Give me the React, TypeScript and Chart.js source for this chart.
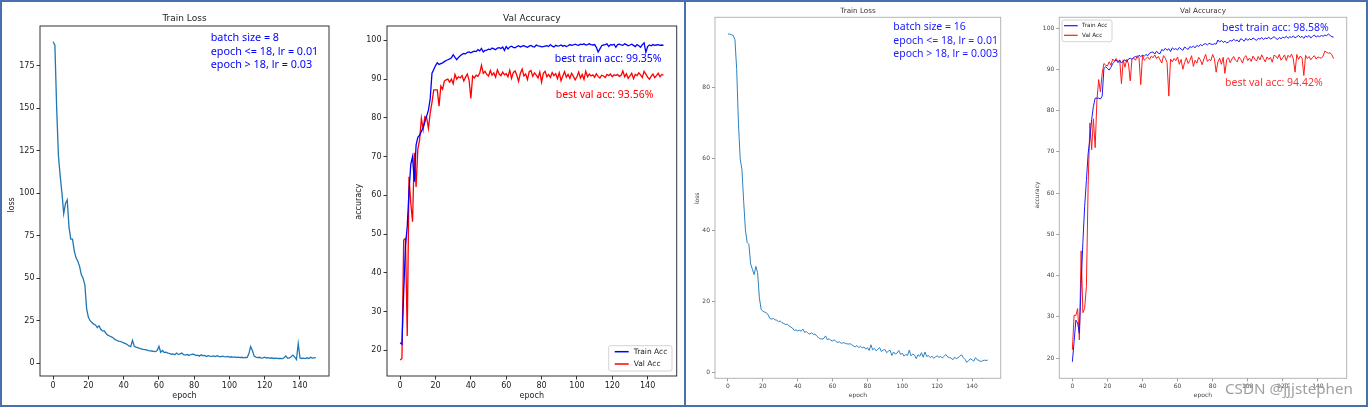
import { useEffect, useRef } from "react";
import { Chart, registerables } from "chart.js";

Chart.register(...registerables);

// ---------------- data ----------------
const epochs: number[] = Array.from({ length: 150 }, (_, i) => i);
const xTicks = [0, 20, 40, 60, 80, 100, 120, 140];
const lossB8Ticks = [0, 25, 50, 75, 100, 125, 150, 175];
const accTicks = [20, 30, 40, 50, 60, 70, 80, 90, 100];
const lossB16Ticks = [0, 20, 40, 60, 80];

const lossB8 = [
  189, 187, 150, 122, 110, 100, 88, 94, 96, 80,
  73, 73, 66, 62, 60, 57, 52, 50, 46, 32,
  27, 25, 24, 23, 22.5, 21, 22, 20, 19, 19,
  17.5, 16.5, 16, 15.5, 15, 14, 13.5, 13, 12.8, 12.5,
  12, 11.5, 11, 10.2, 9.8, 13.5, 10, 9.5, 9.2, 8.8,
  8.5, 8.2, 8, 7.8, 7.4, 7.3, 7.2, 7, 6.8, 7.5,
  10, 6.5, 7.5, 6.3, 6.5, 6, 5.8, 5.3, 5.5, 5,
  6, 5.2, 5.5, 6, 5, 4.8, 5.2, 4.6, 5, 5.4,
  5.2, 4.5, 4.8, 4.2, 5, 4.4, 4.6, 4, 4.5, 4.2,
  4, 4.3, 3.9, 4.4, 4.1, 3.8, 4.2, 3.9, 3.7, 4,
  3.6, 3.8, 3.5, 3.7, 3.4, 3.6, 3.3, 3.5, 3.2, 3.4,
  3.3, 5.5, 9.8, 7.5, 4.2, 3.6, 3.3, 3.5, 3, 3.2,
  3.6, 3.1, 3.3, 2.9, 3.2, 2.8, 3, 2.9, 2.8, 2.9,
  2.7, 3.2, 4.3, 2.9, 3.1, 3.8, 4.8, 3.6, 2.2, 11.6,
  3.1, 2.8, 3, 2.7, 3.2, 2.8, 3.5, 3, 3.2, 3.3,
];

const trainAccB8 = [
  22, 21.6, 35, 47, 52, 61, 68, 70, 63.5, 73,
  75, 75.5, 76.5, 77.5, 79, 80.5, 82, 85, 91.5, 92.5,
  93.5, 94.2, 93.8, 94, 94.2, 94.5, 94.8, 95, 95.2, 95.5,
  96.3, 95.6, 95, 95.6, 96, 96.4, 96.6, 96.5, 96.9, 97,
  96.8, 97, 97.2, 97.1, 97.6, 97.3, 97.9, 97, 97.4, 97.5,
  97.7, 97.6, 98, 97.8, 97.6, 98, 98.1, 97.9, 98.3, 97.4,
  98.4, 97.8, 98.3, 98.5, 98.2, 98.1, 98.4, 98.6, 98.3, 98.5,
  98.6, 98.4, 98.2, 98.5, 98.7, 98.4, 98.3, 98.8, 98.6, 98.5,
  98.3, 98.4, 98.5, 98.6, 98.4, 98.9, 98.5, 98.3, 98.7, 98.5,
  98.6, 98.8, 98.5, 98.7, 98.4, 98.6, 98.9, 98.7, 98.8, 99,
  98.8, 98.7, 99, 98.9, 99.1, 98.8, 98.9, 99.1, 98.9, 98.8,
  98.9, 98.2, 97, 97.8, 98.6, 98.8, 98.9, 99.1, 98.4, 98.9,
  98.8, 99, 98.2, 98.9, 99, 98.8, 98.7, 99.1, 98.9, 98.6,
  98.8, 99, 98.7, 98.4, 98.9, 98.6, 98.2, 98.9, 99.35, 96.9,
  98.4, 98.8, 98.6, 98.9, 98.7, 98.8, 98.9, 98.7, 98.8, 98.7,
];

const valAccB8 = [
  17.5, 17.9, 48.5, 48.9, 23.7, 64.8, 58, 53.2, 71, 62.2,
  72, 74.3, 79.9, 77, 80.3, 80, 77.3, 81.3, 84, 87.2,
  87.2, 87.2, 83, 88.2, 87.4, 89.5, 89.8, 90, 89.2, 90,
  88.8, 91.2, 90, 90.6, 90.3, 90.9, 89.5, 90.5, 91.3, 89.7,
  85, 90.8, 90.3, 91, 90.7, 91.5, 93.56, 91.5, 92, 91.2,
  90.8, 92.2, 91, 91.6, 90.5, 92.4, 91.3, 90.9, 91.8, 91.1,
  91.4, 90.6, 92.3, 90.2, 91.7, 92.1, 91, 89.4, 91.5, 92.6,
  90.8, 91.3, 89.9, 91.9, 92.2, 90.7, 91.6, 91, 90.3, 91.8,
  89.2, 91.5, 92, 90.6, 91.2, 90.4, 91.7, 90.9, 91.4, 90.1,
  91.6, 89.6, 90.8, 91.9, 90.5, 91.2, 90.2, 91.5, 90.7, 89.8,
  90.6, 91.8, 90.3, 91.2, 89.9, 92, 90.6, 91.3, 90.8, 91.1,
  90.5, 91.4, 90.7, 90.3, 91, 90.8, 90.4, 91.2, 90.9, 91.3,
  90.6, 91.1, 90.9, 91.2, 90.7, 91, 92.1, 90.6, 91.4, 90.2,
  90.8, 91.5, 90.1, 91.2, 90.9, 91.6, 91.1, 90.4, 92, 91.3,
  90.5, 90, 90.7, 91.3, 90.4, 90.9, 91.5, 90.6, 91.2, 91,
];

const lossB16 = [
  95, 95, 94.8, 94.6, 93.4, 85, 70, 60, 57, 48,
  40, 36.5, 36, 30.5, 29, 27.5, 29.8, 28, 21, 17.8,
  17.2, 17, 16.8, 16.2, 15.2, 15, 15.2, 14.8, 14.7, 14.3,
  14.5, 14, 13.8, 13.5, 13.6, 13.1, 12.8, 12.5, 11.8, 12,
  11.7, 11.9, 11.6, 12.2, 11.3, 11.5, 11, 10.8, 11.2, 10.7,
  10.8, 10.2, 9.8, 9.5, 9.4, 9.6, 10.3, 9.2, 9.5, 9,
  8.9, 9.2, 8.7, 8.5, 8.6, 8.2, 8.4, 8.3, 8.1, 8,
  8.1, 7.8, 7.5, 7.2, 7.6, 7, 7.4, 6.9, 7.2, 6.6,
  7, 6.2, 7.8, 6.4, 6.8, 6.1, 6.6, 7, 5.9, 6.3,
  6.5, 5.6, 6, 6.3, 4.8, 5.8, 5.2, 5.5, 6.2, 5.1,
  5.4, 4.6, 5.1, 4.8, 6.3, 4.7, 5.2, 4.9, 3.9, 5,
  4.6, 5.6, 4.3, 5.8, 4.5, 4.8, 4.2, 4.6, 4, 4.4,
  4.7, 4.3, 4.5, 4.1, 4.6, 5.1, 4.4, 4.2, 4.1, 3.6,
  4.3, 3.9, 4.2, 4.6, 5, 4.2, 3.7, 2.9, 3.3, 3.9,
  3.6, 3.2, 4.2, 3.6, 3.4, 3.1, 3.3, 3.5, 3.4, 3.5,
];

const trainAccB16 = [
  19.1, 24, 29.2, 28.5, 26, 38, 48, 56.7, 63, 69.6,
  73, 77.8, 81, 83, 83, 83, 82.8, 83.5, 90.2, 90.6,
  90.2, 89.8, 90.5, 91.4, 91.8, 92.3, 91.6, 92.2, 91.5, 92,
  92.3, 91.8, 92.5, 92.7, 92.4, 92.9, 93.1, 92.8, 93.4, 93.1,
  93.4, 93.2, 93.6, 93.3, 93.9, 94.1, 94.2, 93.7, 94.4, 93.9,
  93.8, 94.8, 94.5, 95.1, 94.6, 95, 94.3, 95.2, 94.8, 95,
  94.7, 95.3, 94.9, 94.6, 95.4, 95.1, 94.8, 95.5, 95.3, 95.6,
  95.2, 95.8, 95.5, 96, 95.7, 96.1, 96.2, 95.9, 96.3, 96.1,
  96, 96.2, 96.1, 97.1, 96.6, 97, 96.5, 96.8, 96.4, 96.6,
  97, 96.8, 97.3, 96.9, 97.1, 96.6, 97.4, 97.2, 96.8, 97.5,
  97, 97.4, 97.1, 97.6, 97.3, 97, 97.5, 97.3, 97.7, 97.2,
  97.6, 97.4, 97.8, 97.3, 97.6, 97.9, 97.5, 97.2, 97.7, 97.4,
  97.8, 97.6, 98, 97.5, 97.9, 97.7, 98.1, 97.6, 97.9, 98.2,
  97.7, 98, 97.5, 98.1, 97.8, 98.2, 97.6, 98, 98.3, 97.8,
  98.1, 97.9, 98.2, 98, 98.3, 98.1, 98.58, 98.2, 97.9, 97.8,
];

const valAccB16 = [
  22, 30.4, 30.3, 32, 24.4, 46, 31, 32, 37.3, 62,
  77, 70.5, 78, 71, 82.5, 87.5, 84.5, 89, 91.4, 91,
  90.8, 91.8, 91, 92.5, 92, 92.6, 91.8, 92.3, 86.5, 92.3,
  90.5, 92.4, 91.3, 87.2, 92.5, 92.7, 92.2, 93.3, 92.8, 86.3,
  93.4, 92.2, 92.6, 93, 92.4, 93.2, 92.8, 93.5, 92.6, 93.1,
  92.3, 91.5, 93.3, 92.7, 91.6, 83.5, 92.5, 91.8, 92.6, 92.1,
  93, 91.2, 92.4, 90, 91.6, 92.8, 91.4, 92.1, 93.3, 90.7,
  92.2, 91.5, 92.9, 92.3, 91.1, 92.5, 93.6, 91.9, 92.4, 92.1,
  93.6, 92.6, 89.3, 91.8, 92.7, 91.2, 92.9, 89, 92.3, 92.8,
  91.6, 92.5, 93.1, 92.2, 91.8, 93, 92.4, 91.5, 92.9, 93.3,
  92.1, 92.7, 91.9, 93.2, 92.5, 92, 93.1, 92.3, 93.5, 92.6,
  91.8, 93, 92.4, 92.9, 91.7, 93.4, 93.2, 92.6, 93.6, 92.2,
  92.8, 93.5, 92.1, 93.4, 92.9, 93.7, 92.5, 89.3, 93.6, 92.4,
  93.2, 92.7, 88.5, 93.4, 92.6, 93.1, 92.3, 92.9, 93.3, 92.5,
  93, 92.8, 92.7, 93.2, 94.42, 94.1, 93.9, 94, 93.5, 92.6,
];

// ---------------- chart specs ----------------
type Txt = {
  text: string; x: number; y: number; size: number; color: string;
  family?: string; align?: CanvasTextAlign; rotate?: boolean;
};
type Legend = {
  box: [number, number, number, number];
  lineX: [number, number];
  textX: number;
  size: number;
  lw: number;
  items: { label: string; color: string; y: number }[];
};
type Series = { label: string; values: number[]; color: string; width: number };
type Spec = {
  ox: number; oy: number; w: number; h: number;
  area: { l: number; t: number; r: number; b: number };
  yMin: number; yMax: number; yTicks: number[];
  tickSize: number; tickColor: string; labelColor: string; spine: string; tickLen: number;
  series: Series[];
  texts: Txt[];
  legend?: Legend;
};

const DV = "'DejaVu Sans', sans-serif";
const NS = "'Noto Sans', 'DejaVu Sans', sans-serif";

const specs: Spec[] = [
  {
    ox: 2, oy: 2, w: 340, h: 403,
    area: { l: 40, t: 26, r: 329, b: 376 },
    yMin: -7.5, yMax: 198.3, yTicks: lossB8Ticks,
    tickSize: 8, tickColor: "#333", labelColor: "#222", spine: "#333", tickLen: 3.5,
    series: [{ label: "loss", values: lossB8, color: "#1f77b4", width: 1.3 }],
    texts: [
      { text: "Train Loss", x: 184.5, y: 18.3, size: 9, color: "#222" },
      { text: "epoch", x: 184.5, y: 396, size: 8, color: "#222" },
      { text: "loss", x: 12, y: 205, size: 8, color: "#222", rotate: true },
      { text: "batch size = 8", x: 210.7, y: 38.3, size: 10.8, color: "#0000ff", family: NS, align: "left" },
      { text: "epoch <= 18, lr = 0.01", x: 210.7, y: 51.7, size: 10.8, color: "#0000ff", family: NS, align: "left" },
      { text: "epoch > 18, lr = 0.03", x: 210.7, y: 65, size: 10.8, color: "#0000ff", family: NS, align: "left" },
    ],
  },
  {
    ox: 342, oy: 2, w: 342, h: 403,
    area: { l: 387, t: 26, r: 676.7, b: 376 },
    yMin: 13.4, yMax: 103.7, yTicks: accTicks,
    tickSize: 8, tickColor: "#333", labelColor: "#222", spine: "#333", tickLen: 3.5,
    series: [
      { label: "Train Acc", values: trainAccB8, color: "#0000ff", width: 1.3 },
      { label: "Val Acc", values: valAccB8, color: "#ff0000", width: 1.3 },
    ],
    texts: [
      { text: "Val Accuracy", x: 531.8, y: 18.3, size: 9, color: "#222" },
      { text: "epoch", x: 531.8, y: 396, size: 8, color: "#222" },
      { text: "accuracy", x: 359.3, y: 201.7, size: 8, color: "#222", rotate: true },
      { text: "best train acc: 99.35%", x: 554.7, y: 59.3, size: 10.5, color: "#0000ff", family: NS, align: "left" },
      { text: "best val acc: 93.56%", x: 555.7, y: 95, size: 10.5, color: "#ff0000", family: NS, align: "left" },
    ],
    legend: {
      box: [608.7, 345.7, 672, 371], lineX: [614.7, 628.7], textX: 633.7, size: 7.5, lw: 1.3,
      items: [
        { label: "Train Acc", color: "#0000ff", y: 351.7 },
        { label: "Val Acc", color: "#ff0000", y: 364 },
      ],
    },
  },
  {
    ox: 686, oy: 2, w: 340, h: 403,
    area: { l: 715, t: 17.3, r: 1000.7, b: 378.3 },
    yMin: -1.6, yMax: 99.7, yTicks: lossB16Ticks,
    tickSize: 6, tickColor: "#9a9a9a", labelColor: "#444", spine: "#b4b4b4", tickLen: 3,
    series: [{ label: "loss", values: lossB16, color: "#2c82c0", width: 1 }],
    texts: [
      { text: "Train Loss", x: 858, y: 10.7, size: 7.2, color: "#333" },
      { text: "epoch", x: 858, y: 395, size: 6, color: "#444" },
      { text: "loss", x: 697.3, y: 198.3, size: 6, color: "#444", rotate: true },
      { text: "batch size = 16", x: 893.3, y: 26.7, size: 10.5, color: "#1a1aff", family: NS, align: "left" },
      { text: "epoch <= 18, lr = 0.01", x: 893.3, y: 40.7, size: 10.5, color: "#1a1aff", family: NS, align: "left" },
      { text: "epoch > 18, lr = 0.003", x: 893.3, y: 54, size: 10.5, color: "#1a1aff", family: NS, align: "left" },
    ],
  },
  {
    ox: 1026, oy: 2, w: 339, h: 403,
    area: { l: 1059.3, t: 17.3, r: 1346.7, b: 378.3 },
    yMin: 15.1, yMax: 102.6, yTicks: accTicks,
    tickSize: 6, tickColor: "#9a9a9a", labelColor: "#444", spine: "#b4b4b4", tickLen: 3,
    series: [
      { label: "Train Acc", values: trainAccB16, color: "#1a1aff", width: 1 },
      { label: "Val Acc", values: valAccB16, color: "#ff1a1a", width: 1 },
    ],
    texts: [
      { text: "Val Accuracy", x: 1203, y: 10.7, size: 7.2, color: "#333" },
      { text: "epoch", x: 1203, y: 395, size: 6, color: "#444" },
      { text: "accuracy", x: 1037.7, y: 195, size: 6, color: "#444", rotate: true },
      { text: "best train acc: 98.58%", x: 1222, y: 27.7, size: 10.5, color: "#1a1aff", family: NS, align: "left" },
      { text: "best val acc: 94.42%", x: 1225, y: 83.3, size: 10.5, color: "#ff3030", family: NS, align: "left" },
      { text: "CSDN @jjjstephen", x: 1225, y: 390, size: 15.2, color: "#a0a0a0", family: NS, align: "left" },
    ],
    legend: {
      box: [1062, 20, 1112, 41.7], lineX: [1064, 1077.7], textX: 1082, size: 5.7, lw: 1,
      items: [
        { label: "Train Acc", color: "#1a1aff", y: 25.7 },
        { label: "Val Acc", color: "#ff1a1a", y: 35.3 },
      ],
    },
  },
];

// ---------------- chart config ----------------
function buildConfig(s: Spec): any {
  const decor = {
    id: "decor",
    afterDraw(chart: any) {
      const ctx: CanvasRenderingContext2D = chart.ctx;
      const a = chart.chartArea;
      ctx.save();
      ctx.strokeStyle = s.spine;
      ctx.lineWidth = 1;
      ctx.strokeRect(a.left, a.top, a.right - a.left, a.bottom - a.top);
      ctx.textBaseline = "middle";
      for (const t of s.texts) {
        ctx.font = `${t.size}px ${t.family || DV}`;
        ctx.fillStyle = t.color;
        ctx.textAlign = t.align || "center";
        const x = t.x - s.ox;
        const y = t.y - s.oy;
        if (t.rotate) {
          ctx.save();
          ctx.translate(x, y);
          ctx.rotate(-Math.PI / 2);
          ctx.fillText(t.text, 0, 0);
          ctx.restore();
        } else {
          ctx.fillText(t.text, x, y);
        }
      }
      const lg = s.legend;
      if (lg) {
        const [x0, y0, x1, y1] = lg.box;
        ctx.beginPath();
        (ctx as any).roundRect(x0 - s.ox, y0 - s.oy, x1 - x0, y1 - y0, 2);
        ctx.fillStyle = "rgba(255,255,255,0.85)";
        ctx.fill();
        ctx.strokeStyle = "#d4d4d4";
        ctx.lineWidth = 1;
        ctx.stroke();
        ctx.font = `${lg.size}px ${DV}`;
        ctx.textAlign = "left";
        for (const it of lg.items) {
          ctx.strokeStyle = it.color;
          ctx.lineWidth = lg.lw + 0.2;
          ctx.beginPath();
          ctx.moveTo(lg.lineX[0] - s.ox, it.y - s.oy);
          ctx.lineTo(lg.lineX[1] - s.ox, it.y - s.oy);
          ctx.stroke();
          ctx.fillStyle = "#222";
          ctx.fillText(it.label, lg.textX - s.ox, it.y - s.oy);
        }
      }
      ctx.restore();
    },
  };

  const gridOpts = {
    drawOnChartArea: false,
    drawTicks: true,
    tickLength: s.tickLen,
    color: s.tickColor,
    tickColor: s.tickColor,
    lineWidth: 1,
  };
  const tickOpts = {
    font: { family: DV, size: s.tickSize },
    color: s.labelColor,
    padding: 2,
    maxRotation: 0,
    autoSkip: false,
    callback: (v: number) => String(v),
  };

  return {
    type: "line",
    data: {
      datasets: s.series.map((ser) => ({
        label: ser.label,
        data: ser.values.map((v, i) => ({ x: epochs[i], y: v })),
        borderColor: ser.color,
        backgroundColor: ser.color,
        borderWidth: ser.width,
        pointRadius: 0,
        tension: 0,
        fill: false,
      })),
    },
    options: {
      responsive: false,
      animation: false,
      events: [],
      layout: {
        padding: { left: 0, top: s.area.t - s.oy, right: s.ox + s.w - s.area.r, bottom: 0 },
      },
      scales: {
        x: {
          type: "linear",
          min: -7.45,
          max: 156.45,
          afterBuildTicks: (sc: any) => {
            sc.ticks = xTicks.map((v) => ({ value: v }));
          },
          afterFit: (sc: any) => {
            sc.height = s.oy + s.h - s.area.b;
          },
          grid: gridOpts,
          border: { display: false },
          ticks: tickOpts,
        },
        y: {
          type: "linear",
          min: s.yMin,
          max: s.yMax,
          afterBuildTicks: (sc: any) => {
            sc.ticks = s.yTicks.map((v) => ({ value: v }));
          },
          afterFit: (sc: any) => {
            sc.width = s.area.l - s.ox;
          },
          grid: gridOpts,
          border: { display: false },
          ticks: tickOpts,
        },
      },
      plugins: {
        legend: { display: false },
        tooltip: { enabled: false },
        title: { display: false },
      },
    },
    plugins: [decor],
  };
}

function ChartBox({ spec }: { spec: Spec }) {
  const ref = useRef<HTMLCanvasElement>(null);
  useEffect(() => {
    if (!ref.current) return;
    const chart = new Chart(ref.current, buildConfig(spec));
    return () => chart.destroy();
  }, [spec]);
  return (
    <canvas
      ref={ref}
      width={spec.w}
      height={spec.h}
      style={{ position: "absolute", left: spec.ox, top: spec.oy, width: spec.w, height: spec.h }}
    />
  );
}

const FRAME = "#4770ad";

export default function App() {
  const bar = (left: number, top: number, width: number, height: number) => (
    <div style={{ position: "absolute", left, top, width, height, background: FRAME }} />
  );
  return (
    <div
      style={{
        position: "absolute",
        left: 0,
        top: 0,
        width: 1368,
        height: 408,
        background: "#ffffff",
        overflow: "hidden",
      }}
    >
      {specs.map((s, i) => (
        <ChartBox key={i} spec={s} />
      ))}
      {bar(0, 0, 1368, 2)}
      {bar(0, 405, 1368, 2)}
      {bar(0, 0, 2, 407)}
      {bar(1366, 0, 2, 407)}
      {bar(684, 0, 2, 407)}
    </div>
  );
}
